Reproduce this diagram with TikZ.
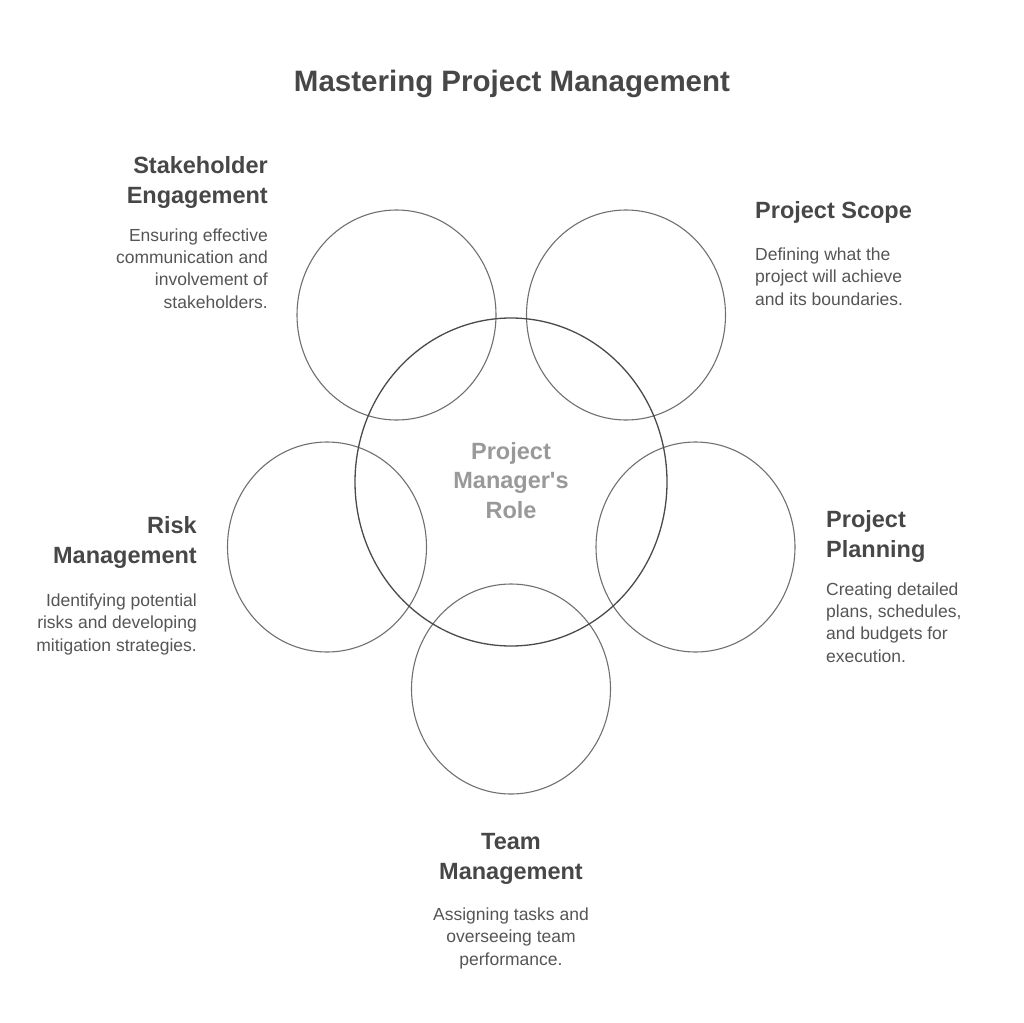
\documentclass[tikz,border=0pt]{standalone}
\usepackage{fontspec}
\setmainfont{Liberation Sans}
\definecolor{headc}{HTML}{474747}
\definecolor{bodyc}{HTML}{555555}
\definecolor{midc}{HTML}{999999}
\definecolor{ringc}{HTML}{707070}
\definecolor{bigc}{HTML}{4A4A4A}
\begin{document}
\begin{tikzpicture}[x=1pt,y=-1pt,
  ring/.style={draw=ringc,line width=1.1pt},
  bigring/.style={draw=bigc,line width=1.3pt},
  head/.style={font=\fontsize{23.5}{30}\selectfont\bfseries,text=headc,inner sep=0pt},
  body/.style={font=\fontsize{17.5}{22.3}\selectfont,text=bodyc,inner sep=0pt},
  mid/.style={font=\fontsize{23.5}{29.5}\selectfont\bfseries,text=midc,inner sep=0pt,align=center},
  ttl/.style={font=\fontsize{29.5}{34}\selectfont\bfseries,text=headc,inner sep=0pt}]
\useasboundingbox[fill=white] (0,0) rectangle (1024,1022);
\node[ttl,anchor=base] (title) at (512,92) {Mastering Project Management};
% circles
\draw[ring] (396.5,315) ellipse [x radius=99.5, y radius=105];
\draw[ring] (626,315) ellipse [x radius=99.5, y radius=105];
\draw[ring] (695.5,547) ellipse [x radius=99.5, y radius=105];
\draw[ring] (511,689) ellipse [x radius=99.5, y radius=105];
\draw[ring] (327,547) ellipse [x radius=99.5, y radius=105];
\draw[bigring] (511,482) ellipse [x radius=156, y radius=164];
\node[mid,anchor=base] (center) at (511,518) {Project\\Manager\textquotesingle s\\Role};
% Stakeholder Engagement
\node[head,align=right,anchor=base east] (seh) at (268,203) {Stakeholder\\Engagement};
\node[body,align=right,anchor=base east] (seb) at (268,308) {Ensuring effective\\communication and\\involvement of\\stakeholders.};
% Project Scope
\node[head,align=left,anchor=base west] (psh) at (755,218) {Project Scope};
\node[body,align=left,anchor=base west] (psb) at (755,305) {Defining what the\\project will achieve\\and its boundaries.};
% Project Planning
\node[head,align=left,anchor=base west] (pph) at (826,557) {Project\\Planning};
\node[body,align=left,anchor=base west] (ppb) at (826,662) {Creating detailed\\plans, schedules,\\and budgets for\\execution.};
% Risk Management
\node[head,align=right,anchor=base east] (rmh) at (197,563) {Risk\\Management};
\node[body,align=right,anchor=base east] (rmb) at (197,651) {Identifying potential\\risks and developing\\mitigation strategies.};
% Team Management
\node[head,align=center,anchor=base] (tmh) at (511,879) {Team\\Management};
\node[body,align=center,anchor=base] (tmb) at (511,965) {Assigning tasks and\\overseeing team\\performance.};
\end{tikzpicture}
\end{document}
